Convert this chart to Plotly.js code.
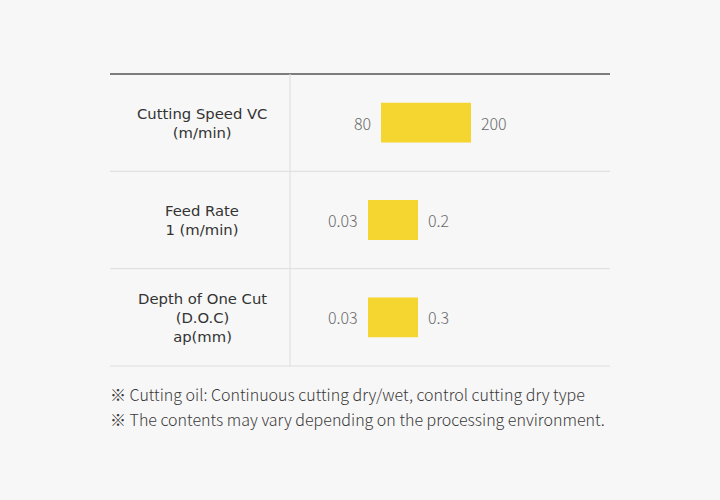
<!DOCTYPE html>
<html>
<head>
<meta charset="utf-8">
<script src="https://cdn.plot.ly/plotly-3.0.1.min.js"></script>
<style>html,body{margin:0;padding:0;background:#f7f7f7;}#chart{width:720px;height:500px;}</style>
</head>
<body>
<div id="chart"></div>
<script>
// ---- data ----
const rowLabels = ["Cutting Speed VC<br>(m/min)", "Feed Rate<br>1 (m/min)", "Depth of One Cut<br>(D.O.C)<br>ap(mm)"];
const rowKeys = ["speed", "feed", "doc"];
const minValues = [80, 0.03, 0.03];
const maxValues = [200, 0.2, 0.3];
const minLabels = ["80", "0.03", "0.03"];
const maxLabels = ["200", "0.2", "0.3"];
const notes = [
  "※ Cutting oil: Continuous cutting dry/wet, control cutting dry type",
  "※ The contents may vary depending on the processing environment."
];

// ---- layout geometry (pixels) ----
const W = 720, H = 500;
const plotL = 110, plotR = 610, plotT = 74, plotB = 366;
const plotW = plotR - plotL;
const barPix = [[381, 471], [368, 418], [368, 418]]; // pixel span of each row's bar
const dividerX = 290;
const barColor = "#f5d52f";
const valueFont = {family: "Noto Sans CJK KR", size: 16, color: "#6a6a6a", weight: 300};

const axisNames = ["x", "x2", "x3"];
const traces = [];
const annotations = [];
const layout = {
  width: W, height: H,
  paper_bgcolor: "#f7f7f7", plot_bgcolor: "#f7f7f7",
  margin: {l: plotL, r: W - plotR, t: plotT, b: H - plotB, pad: 0},
  showlegend: false,
  barmode: "overlay",
  yaxis: {
    type: "category", categoryorder: "array", categoryarray: rowKeys,
    range: [2.5, -0.5], showticklabels: false, showgrid: false, zeroline: false,
    ticks: "", showline: false, fixedrange: true
  },
  shapes: [],
  annotations: annotations
};

rowKeys.forEach((k, i) => {
  const lo = minValues[i], hi = maxValues[i];
  const [p0, p1] = barPix[i];
  const pxPerUnit = (p1 - p0) / (hi - lo);
  const r0 = lo - (p0 - plotL) / pxPerUnit;
  const r1 = hi + (plotR - p1) / pxPerUnit;
  const axKey = i === 0 ? "xaxis" : "xaxis" + (i + 1);
  layout[axKey] = {
    range: [r0, r1], visible: false, showgrid: false, zeroline: false,
    anchor: "y", domain: [0, 1], fixedrange: true
  };
  if (i > 0) layout[axKey].overlaying = "x";

  traces.push({
    type: "bar", orientation: "h",
    y: [k], x: [hi - lo], base: [lo],
    xaxis: axisNames[i], yaxis: "y",
    width: 0.41,
    marker: {color: barColor, line: {width: 0}},
    hoverinfo: "skip"
  });

  annotations.push({
    xref: axisNames[i], yref: "y", x: lo, y: k,
    text: minLabels[i], showarrow: false, xanchor: "right", yanchor: "middle",
    xshift: -8, font: valueFont
  });
  annotations.push({
    xref: axisNames[i], yref: "y", x: hi, y: k,
    text: maxLabels[i], showarrow: false, xanchor: "left", yanchor: "middle",
    xshift: 8, font: valueFont
  });
  annotations.push({
    xref: "paper", yref: "y", x: (202 - plotL) / plotW, y: k,
    text: rowLabels[i], showarrow: false, xanchor: "center", yanchor: "middle",
    align: "center", font: {family: "DejaVu Sans", size: 14.8, color: "#333333"}
  });
});

// table lines
layout.shapes.push({type: "line", xref: "paper", yref: "paper", x0: 0, x1: 1, y0: 1, y1: 1,
  line: {color: "#555555", width: 1.5}});
[2/3, 1/3, 0].forEach(yy => layout.shapes.push({type: "line", xref: "paper", yref: "paper",
  x0: 0, x1: 1, y0: yy, y1: yy, line: {color: "#dddddd", width: 1}}));
layout.shapes.push({type: "line", xref: "paper", yref: "paper",
  x0: (dividerX - plotL) / plotW, x1: (dividerX - plotL) / plotW, y0: 0, y1: 1,
  line: {color: "#dddddd", width: 1}});

// footnotes
notes.forEach((t, j) => annotations.push({
  xref: "paper", yref: "paper", x: -0.004, y: -(394.5 + j * 24 - plotB) / (plotB - plotT),
  text: t, showarrow: false, xanchor: "left", yanchor: "middle",
  font: {family: "Noto Sans CJK KR", size: 16, color: "#3a3a3a", weight: 300}
}));

Plotly.newPlot("chart", traces, layout, {displayModeBar: false, staticPlot: true});
</script>
</body>
</html>
